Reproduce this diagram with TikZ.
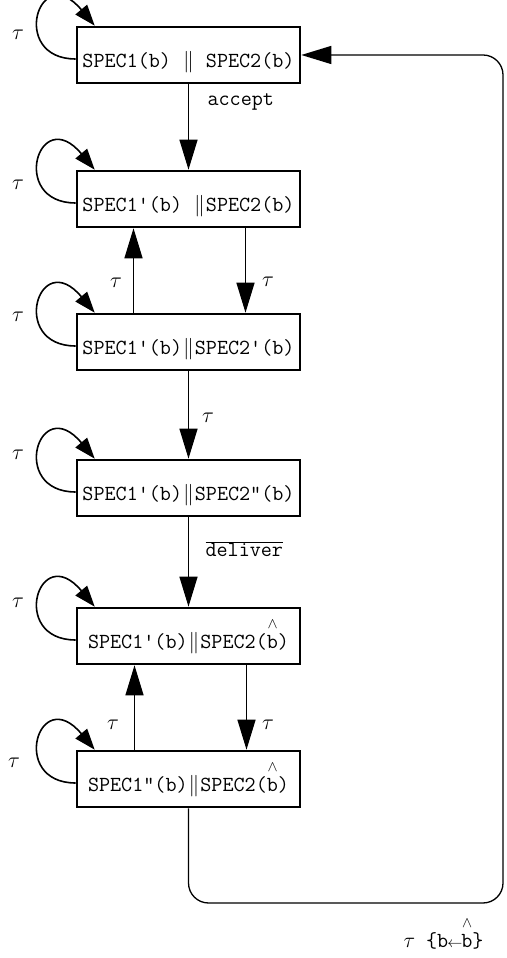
\documentclass[tikz,border=0pt]{standalone}
\usepackage{fix-cm}
\usetikzlibrary{arrows.meta, positioning}

% b with a caret set high above it
\newcommand{\bhat}{\makebox[0pt][l]{\hspace{0.04em}\raisebox{0.95em}{$\scriptstyle\wedge$}}b}
% parallel composition bars
\newcommand{\parl}{\kern1pt$\|$\kern1pt}

\begin{document}
\begin{tikzpicture}[
                x=1pt, y=1pt,
                state/.style={rectangle, draw, line width=2.6pt, minimum width=223pt, minimum height=56pt, inner sep=0pt,
                              font=\fontsize{21.5}{24}\selectfont\ttfamily, text height=26pt, text depth=0pt},
                flow/.style={line width=1.3pt, -{Triangle[length=30pt, width=18pt]}},
                loopline/.style={line width=1.6pt, -{Triangle[length=21pt, width=15pt]}},
                lbl/.style={font=\fontsize{21.5}{24}\selectfont\ttfamily},
                tau/.style={font=\fontsize{22}{24}\selectfont}
            ]
                \useasboundingbox (0,0) rectangle (506,958);

                % States, top to bottom
                \node[state] (b1) at (188.5,903) {SPEC1(b) \parl{} SPEC2(b)};
                \node[state] (b2) at (188.5,759) {SPEC1\textquotesingle(b) \parl{}SPEC2(b)};
                \node[state] (b3) at (188.5,616) {SPEC1\textquotesingle(b)\parl{}SPEC2\textquotesingle(b)};
                \node[state] (b4) at (188.5,470) {SPEC1\textquotesingle(b)\parl{}SPEC2\textquotedbl(b)};
                \node[state] (b5) at (188.5,322) {SPEC1\textquotesingle(b)\parl{}SPEC2(\bhat)};
                \node[state] (b6) at (188.5,179) {SPEC1\textquotedbl(b)\parl{}SPEC2(\bhat)};

                % Internal steps on every state
                \foreach \b/\tx/\ty in {b1/18/923, b2/18/773, b3/18/641, b4/18/503, b5/18/355, b6/14/195} {
                    \draw[loopline] ([yshift=-4pt]\b.west) .. controls +(-67,0) and +(-56,67) .. ([xshift=19pt]\b.north west);
                    \node[tau] (tau-\b) at (\tx,\ty) {$\tau$};
                }

                % Transitions down the chain
                \draw[flow] (b1) -- (b2);
                \draw[flow] ([xshift=-55pt]b3.north) -- ([xshift=-55pt]b2.south);
                \draw[flow] ([xshift=57pt]b2.south) -- ([xshift=57pt]b3.north);
                \draw[flow] (b3) -- (b4);
                \draw[flow] (b4) -- (b5);
                \draw[flow] ([xshift=-54pt]b6.north) -- ([xshift=-54pt]b5.south);
                \draw[flow] ([xshift=58pt]b5.south) -- ([xshift=58pt]b6.north);

                % Back to the start
                \coordinate (ret) at (503,55);
                \draw[flow, rounded corners=20pt] (b6.south) |- (ret) |- (b1.east);

                % Labels on the transitions
                \node[lbl, anchor=base west] (acc) at (204,852) {accept};
                \node[tau] (t23) at (116,675) {$\tau$};
                \node[tau] (t32) at (268,676) {$\tau$};
                \node[tau] (t34) at (208,540) {$\tau$};
                \node[lbl, anchor=base west] (dlv) at (202,401) {$\overline{\mbox{deliver}}$};
                \node[tau] (t56) at (113,233) {$\tau$};
                \node[tau] (t65) at (268,233) {$\tau$};
                \node[lbl, anchor=base west] (upd) at (400,10) {$\tau$\ \{b\kern-1pt$\scriptstyle\leftarrow$\kern-1pt\bhat\}};

            \end{tikzpicture}
\end{document}
